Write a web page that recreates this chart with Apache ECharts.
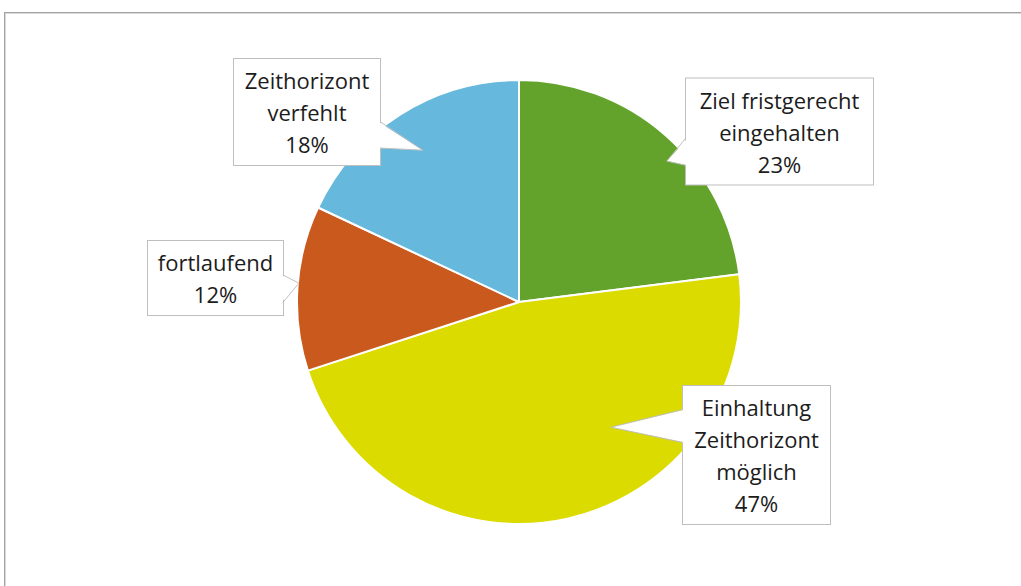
<!DOCTYPE html>
<html>
<head>
<meta charset="utf-8">
<script src="https://cdn.jsdelivr.net/npm/echarts@6/dist/echarts.min.js"></script>
<style>
  html, body { margin: 0; padding: 0; background: #ffffff; overflow: hidden; }
  #frame {
    position: absolute; left: 4px; top: 12px; width: 1100px; height: 700px;
    border-top: 1px solid #a3a3a3; border-left: 1px solid #a3a3a3;
    box-shadow: inset 1px 1px 0 #d9d9d9;
  }
  #chart { position: absolute; left: 0; top: 0; width: 1021px; height: 586px; }
</style>
</head>
<body>
<div id="frame"></div>
<div id="chart"></div>
<script>
// Status categories (line breaks as printed in the callouts) and their shares in percent
const categories = [
  'Ziel fristgerecht\neingehalten',
  'Einhaltung\nZeithorizont\nmöglich',
  'fortlaufend',
  'Zeithorizont\nverfehlt'
];
const shares = [23, 47, 12, 18];
const colors = ['#63a32b', '#dcdb00', '#c9591d', '#67b8dd'];

// Callout boxes: centre, box size, side carrying the pointer, pointer base span
// (fractions of that side), pointer tip (fraction along the slice arc, fraction of radius)
const callouts = [
  { cx: 779.5, cy: 131.5, w: 187, h: 106, side: 'left',  b0: 0.56, b1: 0.82, t: 0.56, rf: 0.92 },
  { cx: 756.5, cy: 455,   w: 147, h: 138, side: 'left',  b0: 0.17, b1: 0.41, t: 0.36, rf: 0.70 },
  { cx: 215.5, cy: 278,   w: 135, h: 74,  side: 'right', b0: 0.46, b1: 0.83, t: 0.53, rf: 0.995 },
  { cx: 307,   cy: 112,   w: 146, h: 106, side: 'right', b0: 0.59, b1: 0.84, t: 0.50, rf: 0.81 }
];

const PAD = [7, 6, 3, 6];
const chart = echarts.init(document.getElementById('chart'), null, { renderer: 'svg' });

const data = categories.map((name, i) => ({
  name: name,
  value: shares[i],
  itemStyle: { color: colors[i] },
  label: { width: callouts[i].w - PAD[1] - PAD[3] }
}));

chart.setOption({
  animation: false,
  series: [{
    type: 'pie',
    center: [519, 302],
    radius: 222,
    startAngle: 90,
    clockwise: true,
    data: data,
    itemStyle: { borderColor: '#ffffff', borderWidth: 2 },
    label: {
      show: true,
      position: 'outside',
      formatter: '{b}\n{c}%',
      fontFamily: 'Open Sans',
      fontSize: 22,
      lineHeight: 32,
      color: '#1c1c1c',
      align: 'center',
      backgroundColor: '#ffffff',
      borderColor: '#bfbfbf',
      borderWidth: 1,
      padding: PAD
    },
    labelLine: { show: false },
    labelLayout: function (p) {
      const c = callouts[p.dataIndex];
      return { x: c.cx, y: c.cy, align: 'center', verticalAlign: 'middle' };
    }
  }]
});

// Pointer wedges joining each box to its slice, placed from the pie's own layout
const seriesData = chart.getModel().getSeriesByIndex(0).getData();
const graphics = [];
callouts.forEach((c, i) => {
  const lay = seriesData.getItemLayout(i);
  const a = lay.startAngle + c.t * (lay.endAngle - lay.startAngle);
  const tip = [lay.cx + lay.r * c.rf * Math.cos(a), lay.cy + lay.r * c.rf * Math.sin(a)];
  const top = c.cy - c.h / 2;
  const edgeX = c.side === 'left' ? c.cx - c.w / 2 : c.cx + c.w / 2;
  const inward = c.side === 'left' ? 2 : -2;
  const y0 = top + c.b0 * c.h, y1 = top + c.b1 * c.h;
  graphics.push({
    type: 'polygon', z: 100,
    shape: { points: [[edgeX + inward, y0], tip, [edgeX + inward, y1]] },
    style: { fill: '#ffffff', stroke: null }
  });
  graphics.push({
    type: 'polyline', z: 101,
    shape: { points: [[edgeX, y0], tip, [edgeX, y1]] },
    style: { stroke: '#bfbfbf', lineWidth: 1, fill: null }
  });
});
chart.setOption({ graphic: graphics });
</script>
</body>
</html>
